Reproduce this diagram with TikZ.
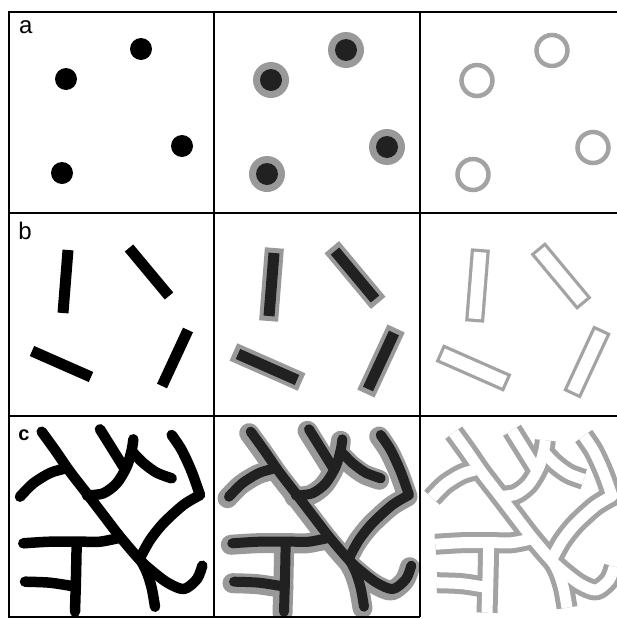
\documentclass[tikz,border=0pt]{standalone}
\usepackage{fontspec}
\setmainfont{Liberation Sans}
\usetikzlibrary{calc}
\definecolor{halo}{gray}{0.60}
\definecolor{dk}{gray}{0.13}
\definecolor{outl}{gray}{0.64}
\newcommand\cstrokes[1]{%
  % long diagonal with hook
  \draw[#1] plot[smooth] coordinates {(41.7,431.7) (55,450) (70,471.7) (86.7,493.3) (103.3,515) (120,536.7) (140,560) (152,571) (168,583) (184,589) (197,579) (202.3,565.7)};
  % branch down
  \draw[#1] plot[smooth] coordinates {(140,559) (146.7,572) (151.7,588) (155,606.7)};
  % left arc
  \draw[#1] plot[smooth] coordinates {(20,496.7) (33.3,483.3) (50,473) (63.3,469)};
  % upper curve
  \draw[#1] plot[smooth] coordinates {(87,495.5) (103.3,493.3) (116.7,483.3) (126.7,466.7) (131.7,450) (133.3,439.3)};
  \draw[#1] plot[smooth] coordinates {(100,429.3) (106.7,440) (115,453.3) (123.5,467)};
  \draw[#1] plot[smooth] coordinates {(132.5,452) (143.3,463) (156.7,472.7) (171.7,478.3)};
  % right bent stroke
  \draw[#1] plot[smooth] coordinates {(171.7,435) (181.7,450) (191.7,471.7) (200,495)} -- plot[smooth] coordinates {(200,495) (183.3,505) (163.3,523.3) (150,540) (140,558)};
  % lower left
  \draw[#1] plot[smooth] coordinates {(23.3,543.3) (50,541.7) (83.3,541.7) (100,541.7) (119,538)};
  \draw[#1] plot[smooth] coordinates {(76.7,542) (76,576.7) (75,611.7)};
  \draw[#1] plot[smooth] coordinates {(25,581.7) (50,582.7) (76,586.7)};
}
\begin{document}
\begin{tikzpicture}[x=1pt,y=-1pt,
  frame/.style={line width=1.8pt,black},
  lbl/.style={font=\fontsize{24}{24}\selectfont,inner sep=0pt},
  lblc/.style={font=\fontsize{20}{20}\selectfont\bfseries,inner sep=0pt}]
\useasboundingbox (0,0) rectangle (617,619);
\fill[white] (0,0) rectangle (617,619);

% ---------- row a ----------
\foreach \x/\y in {141/49,66/79,182/146,62/173}
  \fill[black] (\x,\y) circle (11pt);
\begin{scope}[shift={(205,1)}]
\foreach \x/\y in {141/49,66/79,182/146,62/173}{
  \fill[halo] (\x,\y) circle (18pt);
  \fill[dk] (\x,\y) circle (11pt);}
\end{scope}
\begin{scope}[shift={(411,1.5)}]
\foreach \x/\y in {141/49,66/79,182/146,62/173}
  \draw[outl,line width=4.5pt] (\x,\y) circle (15.5pt);
\end{scope}

% ---------- row b ----------
\foreach \xa/\ya/\xb/\yb in {68/250/63/313,129/248/169/296,188/330/162/386,32/351/91/377}
  \draw[black,line width=11pt] (\xa,\ya) -- (\xb,\yb);
\begin{scope}[shift={(206,3)}]
\foreach \xa/\ya/\xb/\yb in {68/250/63/313,129/248/169/296,188/330/162/386,32/351/91/377}{
  \draw[halo,line width=19pt] ($(\xa,\ya)!-5pt!(\xb,\yb)$) -- ($(\xb,\yb)!-5pt!(\xa,\ya)$);
  \draw[dk,line width=11pt] (\xa,\ya) -- (\xb,\yb);}
\end{scope}
\begin{scope}[shift={(412,4)}]
\foreach \xa/\ya/\xb/\yb in {68/250/63/313,129/248/169/296,188/330/162/386,32/351/91/377}{
  \draw[outl,line width=19pt] ($(\xa,\ya)!-5pt!(\xb,\yb)$) -- ($(\xb,\yb)!-5pt!(\xa,\ya)$);
  \draw[white,line width=12.5pt] ($(\xa,\ya)!-1.8pt!(\xb,\yb)$) -- ($(\xb,\yb)!-1.8pt!(\xa,\ya)$);}
\end{scope}

% ---------- row c ----------
\begin{scope}
\clip (9,416) rectangle (214,617);
\cstrokes{black,line width=10.5pt,line cap=round,line join=round}
\end{scope}
\begin{scope}
\clip (214,416) rectangle (420,617);
\begin{scope}[shift={(209,0)}]
\begin{scope}[shift={(-1.5,1.5)}]
\cstrokes{halo,line width=20pt,line cap=round,line join=round}
\end{scope}
\cstrokes{dk,line width=10pt,line cap=round,line join=round}
\end{scope}
\end{scope}
\begin{scope}
\clip (420,416) rectangle (617,617);
\begin{scope}[shift={(412,1)}]
\cstrokes{outl,line width=21pt,line cap=butt,line join=round}
\cstrokes{white,line width=11pt,line cap=butt,line join=round}
\end{scope}
\end{scope}

% ---------- frame ----------
\draw[frame] (617,12) -- (9,12) -- (9,617) -- (420,617);
\draw[frame] (9,213) -- (617,213);
\draw[frame] (9,416) -- (617,416);
\draw[frame] (214,12) -- (214,617);
\draw[frame] (420,12) -- (420,617);

% ---------- labels ----------
\node[lbl] (la) at (25.7,27.3) {a};
\node[lbl] (lb) at (25,230.7) {b};
\node[lblc] (lc) at (24,435) {c};
\end{tikzpicture}
\end{document}
